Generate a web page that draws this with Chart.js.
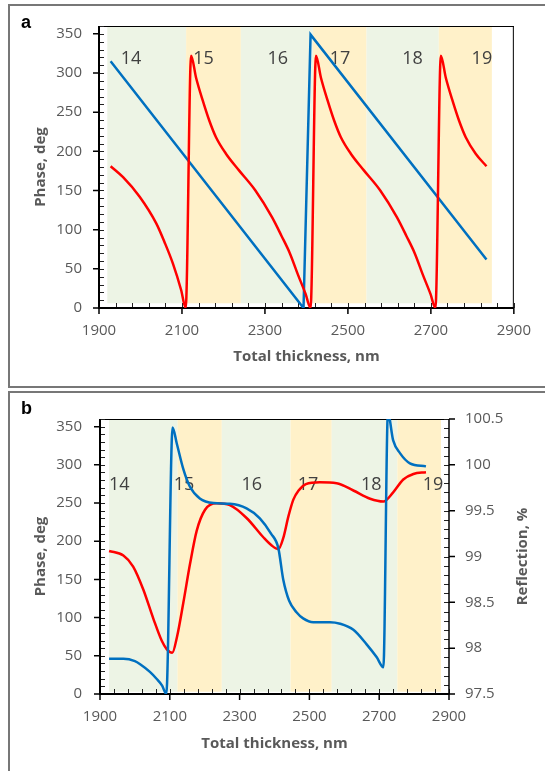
<!DOCTYPE html>
<html>
<head>
<meta charset="utf-8">
<script src="https://cdn.jsdelivr.net/npm/chart.js@4.4.1/dist/chart.umd.min.js"></script>
<style>
html, body { margin: 0; padding: 0; background: #fff; }
body { width: 545px; height: 771px; overflow: hidden; position: relative; font-family: 'Open Sans', sans-serif; }
.box { position: absolute; border: 2px solid #777; box-sizing: border-box; }
#boxA { left: 8px; top: 4px; width: 560px; height: 384px; }
#boxB { left: 8px; top: 391px; width: 560px; height: 400px; }
.wrap { position: absolute; left: 0; width: 545px; }
#wrapA { top: 0; height: 386px; }
#wrapB { top: 392px; height: 379px; }
.letter { position: absolute; font: bold 18px/18px 'Liberation Sans', sans-serif; color: #000; }
</style>
</head>
<body>
<div class="box" id="boxA"></div>
<div class="box" id="boxB"></div>
<div class="wrap" id="wrapA"><canvas id="chartA"></canvas></div>
<div class="wrap" id="wrapB"><canvas id="chartB"></canvas></div>
<div class="letter" style="left:21px;top:13px">a</div>
<div class="letter" style="left:21px;top:399px">b</div>
<script>
// shared axes
const xTicks = [1900, 2100, 2300, 2500, 2700, 2900];
const phaseTicks = [0, 50, 100, 150, 200, 250, 300, 350];
const reflTicks = [97.5, 98, 98.5, 99, 99.5, 100, 100.5];
const orderLabels = ['14', '15', '16', '17', '18', '19'];

// panel a
const bandStartA = [1920, 2110, 2242, 2416, 2545, 2719];
const bandEndA = [2110, 2242, 2416, 2545, 2719, 2847];
const labelXA = [1977, 2152, 2331, 2481, 2656, 2823];
const redAx = [1928, 1958, 1998, 2038, 2058, 2078, 2098, 2109,
    2122, 2134, 2150, 2166, 2182, 2206, 2237, 2277, 2317, 2340, 2360, 2380, 2398, 2410,
    2423, 2435, 2451, 2467, 2483, 2507, 2538, 2578, 2618, 2641, 2661, 2681, 2699, 2711,
    2724, 2736, 2752, 2768, 2784, 2808, 2834];
const redAy = [181, 167, 142, 108, 84, 57, 23, 0,
    322, 294, 265, 239, 218, 197, 176, 150, 116, 92, 70, 42, 18, 0,
    322, 294, 265, 239, 218, 197, 176, 150, 116, 92, 70, 42, 18, 0,
    322, 294, 265, 239, 218, 197, 181];
const blueAx = [1928, 2393, 2410, 2834];
const blueAy = [315, 0, 349, 62];

// panel b
const bandStartB = [1926, 2122, 2249, 2446, 2564, 2752];
const bandEndB = [2122, 2249, 2446, 2564, 2752, 2877];
const labelXB = [1955, 2141, 2335, 2496, 2677, 2854];
const blueBx = [1926, 1967, 2000, 2015, 2043, 2062, 2078, 2090, 2108, 2120, 2139, 2157, 2186, 2225,
    2272, 2320, 2358, 2390, 2411, 2425, 2442, 2463, 2482, 2511, 2559, 2588, 2626, 2664, 2693, 2712,
    2725, 2740, 2760, 2788, 2834];
const blueBy = [46, 46, 43, 39, 29, 20, 11, 0, 349, 328, 294, 272, 256, 250,
    249, 243, 230, 210, 191, 150, 122, 107, 99, 94, 94, 92, 84, 65, 48, 35,
    368, 332, 315, 302, 298];
const redBx = [1926, 1967, 1995, 2024, 2053, 2077, 2091, 2107, 2121, 2139, 2158, 2177, 2201, 2234,
    2272, 2320, 2368, 2392, 2411, 2425, 2440, 2454, 2469, 2490, 2530, 2578, 2626, 2674, 2712,
    2740, 2769, 2798, 2834];
const redBy = [99.06, 99.01, 98.89, 98.64, 98.32, 98.08, 97.99, 97.95, 98.13, 98.50, 98.92, 99.28, 99.51, 99.58,
    99.56, 99.42, 99.21, 99.12, 99.08, 99.20, 99.44, 99.62, 99.72, 99.79, 99.81, 99.80, 99.72, 99.63, 99.60,
    99.70, 99.84, 99.90, 99.92];

const GREEN = '#edf4e5';
const ORANGE = '#fff1c9';
const TICK_GREY = '#595959';

const toPoints = (xs, ys) => xs.map((x, i) => ({ x, y: ys[i] }));

// bands, order numbers, frame and Excel-style tick marks
const panelDecor = {
    id: 'panelDecor',
    beforeDatasetsDraw(chart, args, opts) {
        const { ctx, chartArea: area, scales } = chart;
        const x = scales.x;
        const y = scales.y;
        const y2 = scales.y2;
        ctx.save();

        const yTop = y.getPixelForValue(y.max);
        const yBot = y.getPixelForValue(opts.bandFloor);
        opts.bandStart.forEach((s, i) => {
            const x1 = x.getPixelForValue(s);
            const x2 = x.getPixelForValue(opts.bandEnd[i]);
            ctx.fillStyle = i % 2 === 0 ? GREEN : ORANGE;
            ctx.fillRect(x1, yTop, x2 - x1, yBot - yTop);
        });

        ctx.fillStyle = '#404040';
        ctx.font = '18px "Open Sans"';
        ctx.textAlign = 'center';
        ctx.textBaseline = 'middle';
        orderLabels.forEach((t, i) => {
            ctx.fillText(t, x.getPixelForValue(opts.labelX[i]), y.getPixelForValue(opts.labelY));
        });

        // thin frame
        ctx.strokeStyle = '#000';
        ctx.lineWidth = 1;
        ctx.beginPath();
        ctx.moveTo(area.left, area.top + 0.5);
        ctx.lineTo(area.right, area.top + 0.5);
        if (!y2) {
            ctx.moveTo(area.right - 0.5, area.top);
            ctx.lineTo(area.right - 0.5, area.bottom);
        }
        ctx.stroke();

        // minor ticks (inside)
        ctx.strokeStyle = '#222';
        ctx.beginPath();
        for (let v = x.min; v <= x.max + 1e-6; v += opts.xMinor) {
            const px = Math.round(x.getPixelForValue(v)) + 0.5;
            ctx.moveTo(px, area.bottom);
            ctx.lineTo(px, area.bottom - 5);
        }
        for (let v = y.min; v <= y.max + 1e-6; v += opts.yMinor) {
            const py = Math.round(y.getPixelForValue(v)) + 0.5;
            ctx.moveTo(area.left, py);
            ctx.lineTo(area.left + 5, py);
        }
        if (y2) {
            for (let v = y2.min; v <= y2.max + 1e-6; v += 0.1) {
                const py = Math.round(y2.getPixelForValue(v)) + 0.5;
                ctx.moveTo(area.right, py);
                ctx.lineTo(area.right - 5, py);
            }
        }
        ctx.stroke();

        // major ticks (outside)
        ctx.strokeStyle = '#000';
        ctx.lineWidth = 1.5;
        ctx.beginPath();
        xTicks.forEach((v) => {
            const px = x.getPixelForValue(v);
            ctx.moveTo(px, area.bottom);
            ctx.lineTo(px, area.bottom + 6);
        });
        phaseTicks.forEach((v) => {
            const py = y.getPixelForValue(v);
            ctx.moveTo(area.left - 6, py);
            ctx.lineTo(area.left, py);
        });
        if (y2) {
            reflTicks.forEach((v) => {
                const py = y2.getPixelForValue(v);
                ctx.moveTo(area.right, py);
                ctx.lineTo(area.right + 6, py);
            });
        }
        ctx.stroke();

        // main axes
        ctx.lineWidth = 2;
        ctx.beginPath();
        ctx.moveTo(area.left, area.top);
        ctx.lineTo(area.left, area.bottom + 1);
        ctx.moveTo(area.left - 1, area.bottom);
        ctx.lineTo(area.right, area.bottom);
        ctx.stroke();
        if (y2) {
            ctx.lineWidth = 1.5;
            ctx.beginPath();
            ctx.moveTo(area.right, area.top);
            ctx.lineTo(area.right, area.bottom);
            ctx.stroke();

            // right title reads bottom-to-top, like Excel
            ctx.save();
            ctx.translate(opts.rightTitleX, (area.top + area.bottom) / 2);
            ctx.rotate(-Math.PI / 2);
            ctx.fillStyle = TICK_GREY;
            ctx.font = 'bold 15px "Open Sans"';
            ctx.textAlign = 'center';
            ctx.textBaseline = 'middle';
            ctx.fillText('Reflection, %', 0, 0);
            ctx.restore();
        }
        ctx.restore();
    },
};

const tickFont = { family: 'Open Sans', size: 15 };
const titleFont = { family: 'Open Sans', size: 15, weight: 'bold' };
const plainLabel = (v) => String(v);

function xScale(height, labelPad, titlePad) {
    return {
        type: 'linear',
        min: 1900,
        max: 2900,
        afterBuildTicks: (s) => { s.ticks = xTicks.map((v) => ({ value: v })); },
        afterFit: (s) => { s.height = height; },
        ticks: { font: tickFont, color: TICK_GREY, padding: labelPad, autoSkip: false, maxRotation: 0, callback: plainLabel },
        grid: { display: false, drawTicks: false },
        border: { display: false },
        title: { display: true, text: 'Total thickness, nm', font: titleFont, color: TICK_GREY, padding: { top: 0, bottom: titlePad } },
    };
}

function phaseScale(width, labelPad) {
    return {
        type: 'linear',
        position: 'left',
        min: 0,
        max: 360,
        afterBuildTicks: (s) => { s.ticks = phaseTicks.map((v) => ({ value: v })); },
        afterFit: (s) => { s.width = width; },
        ticks: { font: tickFont, color: TICK_GREY, padding: labelPad, callback: plainLabel },
        grid: { display: false, drawTicks: false },
        border: { display: false },
        title: { display: true, text: 'Phase, deg', font: titleFont, color: TICK_GREY, padding: { top: 32, bottom: 0 } },
    };
}

const lineStyle = { pointRadius: 0, borderWidth: 2.5, fill: false };

new Chart(document.getElementById('chartA'), {
    type: 'line',
    data: {
        datasets: [
            { ...lineStyle, data: toPoints(redAx, redAy), borderColor: '#ff0000', cubicInterpolationMode: 'monotone' },
            { ...lineStyle, data: toPoints(blueAx, blueAy), borderColor: '#0070c0', tension: 0 },
        ],
    },
    options: {
        responsive: true,
        maintainAspectRatio: false,
        animation: false,
        layout: { padding: { left: 0, top: 24, right: 28, bottom: 0 } },
        scales: {
            x: xScale(78, 14, 20),
            y: phaseScale(99, 17),
        },
        plugins: {
            legend: { display: false },
            tooltip: { enabled: false },
            panelDecor: {
                bandStart: bandStartA, bandEnd: bandEndA, bandFloor: 6,
                labelX: labelXA, labelY: 318, xMinor: 40, yMinor: 10,
            },
        },
    },
    plugins: [panelDecor],
});

new Chart(document.getElementById('chartB'), {
    type: 'line',
    data: {
        datasets: [
            { ...lineStyle, data: toPoints(blueBx, blueBy), borderColor: '#0070c0', cubicInterpolationMode: 'monotone', yAxisID: 'y' },
            { ...lineStyle, data: toPoints(redBx, redBy), borderColor: '#ff0000', cubicInterpolationMode: 'monotone', yAxisID: 'y2' },
        ],
    },
    options: {
        responsive: true,
        maintainAspectRatio: false,
        animation: false,
        layout: { padding: { left: 0, top: 20, right: 0, bottom: 0 } },
        scales: {
            x: xScale(77, 14, 18),
            y: phaseScale(100, 18),
            y2: {
                type: 'linear',
                position: 'right',
                min: 97.5,
                max: 100.5,
                afterBuildTicks: (s) => { s.ticks = reflTicks.map((v) => ({ value: v })); },
                afterFit: (s) => { s.width = 96; },
                ticks: { font: tickFont, color: TICK_GREY, padding: 16, callback: plainLabel },
                grid: { display: false, drawTicks: false },
                border: { display: false },
                title: { display: false },
            },
        },
        plugins: {
            legend: { display: false },
            tooltip: { enabled: false },
            panelDecor: {
                bandStart: bandStartB, bandEnd: bandEndB, bandFloor: 3,
                labelX: labelXB, labelY: 274, xMinor: 40, yMinor: 10, rightTitleX: 523,
            },
        },
    },
    plugins: [panelDecor],
});
</script>
</body>
</html>
